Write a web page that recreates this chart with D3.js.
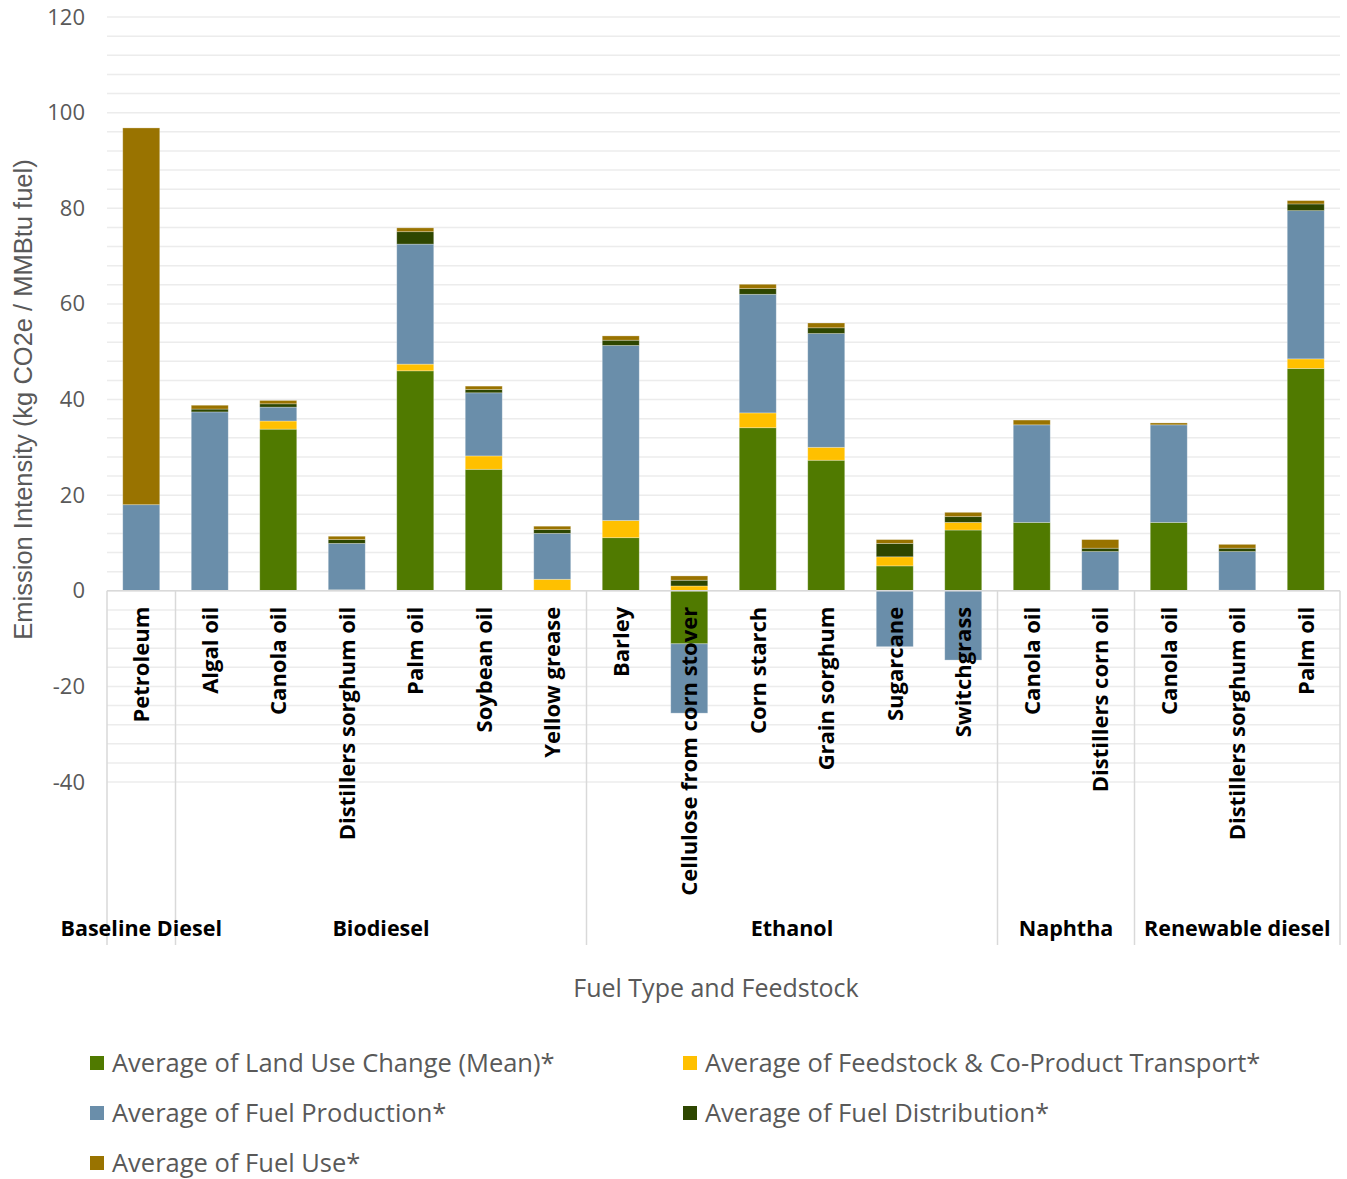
<!DOCTYPE html>
<html>
<head>
<meta charset="utf-8">
<script src="https://cdn.jsdelivr.net/npm/d3@7"></script>
<style>
  html, body { margin: 0; padding: 0; background: #ffffff; }
  svg { display: block; }
</style>
</head>
<body>
<svg id="chart" width="1347" height="1179"></svg>
<script>
// Feedstocks (x categories) and the fuel type each belongs to
const categories = [
  "Petroleum",
  "Algal oil", "Canola oil", "Distillers sorghum oil", "Palm oil", "Soybean oil", "Yellow grease",
  "Barley", "Cellulose from corn stover", "Corn starch", "Grain sorghum", "Sugarcane", "Switchgrass",
  "Canola oil", "Distillers corn oil",
  "Canola oil", "Distillers sorghum oil", "Palm oil"
];
const groups = [
  "Baseline Diesel",
  "Biodiesel", "Biodiesel", "Biodiesel", "Biodiesel", "Biodiesel", "Biodiesel",
  "Ethanol", "Ethanol", "Ethanol", "Ethanol", "Ethanol", "Ethanol",
  "Naphtha", "Naphtha",
  "Renewable diesel", "Renewable diesel", "Renewable diesel"
];

// Emission components, kg CO2e / MMBtu fuel
const landUseChange = [0, 0, 33.8, 0, 46.0, 25.4, 0, 11.1, -11.1, 34.1, 27.3, 5.2, 12.7, 14.3, 0, 14.3, 0, 46.5];
const feedstockTransport = [0, 0, 1.7, 0.2, 1.4, 2.8, 2.4, 3.6, 1.0, 3.1, 2.7, 1.9, 1.6, 0, 0.1, 0, 0.1, 2.0];
const fuelProduction = [18.0, 37.4, 2.9, 9.7, 25.1, 13.2, 9.6, 36.6, -14.5, 24.8, 23.8, -11.7, -14.5, 20.4, 8.1, 20.4, 8.1, 31.0];
const fuelDistribution = [0, 0.6, 0.7, 0.8, 2.6, 0.7, 0.8, 1.1, 1.2, 1.2, 1.2, 2.8, 1.2, 0, 0.7, 0, 0.7, 1.4];
const fuelUse = [78.8, 0.8, 0.7, 0.7, 0.8, 0.7, 0.7, 0.9, 0.9, 0.9, 1.0, 0.8, 0.9, 1.0, 1.8, 0.4, 0.8, 0.7];

const seriesNames = [
  "Average of Land Use Change (Mean)*",
  "Average of Feedstock & Co-Product Transport*",
  "Average of Fuel Production*",
  "Average of Fuel Distribution*",
  "Average of Fuel Use*"
];
const seriesValues = [landUseChange, feedstockTransport, fuelProduction, fuelDistribution, fuelUse];
const seriesColors = ["#507A00", "#FFC000", "#6A8EAA", "#2E4600", "#997300"];

const yTicks = [-40, -20, 0, 20, 40, 60, 80, 100, 120];

// ---- layout ----
const svg = d3.select("#chart");
const plot = { left: 107, right: 1340, top: 17, bottom: 782 };
const groupLineBottom = 945;
const labelFont = "'Open Sans', 'Noto Sans', sans-serif";
const greyText = "#595959";

const x = d3.scaleBand()
  .domain(d3.range(categories.length))
  .range([plot.left, plot.right])
  .paddingInner(0.46)
  .paddingOuter(0.23);
const step = x.step();

const y = d3.scaleLinear().domain([-40, 120]).range([plot.bottom, plot.top]);

// Gridlines every 4 units
svg.append("g")
  .selectAll("line")
  .data(d3.range(-40, 120.001, 4))
  .join("line")
  .attr("x1", plot.left).attr("x2", plot.right)
  .attr("y1", d => y(d)).attr("y2", d => y(d))
  .attr("stroke", "#ececec").attr("stroke-width", 1.5);

// Y axis tick labels
const yAxis = d3.axisLeft(y).tickValues(yTicks).tickFormat(d => String(d)).tickSize(0).tickPadding(0);
const yg = svg.append("g").attr("transform", `translate(${plot.left - 22},0)`).call(yAxis);
yg.select(".domain").remove();
yg.selectAll("text")
  .attr("fill", greyText)
  .style("font-family", labelFont)
  .style("font-size", "22px");

// Stacked bars (negatives stack downward)
const rows = categories.map((c, i) => {
  const r = { i };
  seriesNames.forEach((s, k) => { r[s] = seriesValues[k][i]; });
  return r;
});
const stacked = d3.stack()
  .keys(seriesNames)
  .order(d3.stackOrderNone)
  .offset(d3.stackOffsetDiverging)(rows);

svg.append("g")
  .selectAll("g")
  .data(stacked)
  .join("g")
  .attr("fill", (d, k) => seriesColors[k])
  .selectAll("rect")
  .data(d => d.filter(p => p[1] !== p[0]))
  .join("rect")
  .attr("x", p => x(p.data.i))
  .attr("width", x.bandwidth())
  .attr("y", p => y(Math.max(p[0], p[1])))
  .attr("height", p => Math.abs(y(p[0]) - y(p[1])))
  .attr("stroke", "rgba(255,255,255,0.35)")
  .attr("stroke-width", 0.8);

// Category axis at zero, with group dividers
const axisG = svg.append("g");
axisG.append("line")
  .attr("x1", plot.left).attr("x2", plot.right)
  .attr("y1", y(0)).attr("y2", y(0))
  .attr("stroke", "#d9d9d9").attr("stroke-width", 1.5);

// group spans
const groupSpans = [];
groups.forEach((g, i) => {
  const last = groupSpans[groupSpans.length - 1];
  if (last && last.name === g) last.end = i;
  else groupSpans.push({ name: g, start: i, end: i });
});
const divX = [plot.left].concat(groupSpans.map(s => plot.left + (s.end + 1) * step));
axisG.selectAll("line.div")
  .data(divX)
  .join("line")
  .attr("class", "div")
  .attr("x1", d => d).attr("x2", d => d)
  .attr("y1", y(0)).attr("y2", groupLineBottom)
  .attr("stroke", "#d9d9d9").attr("stroke-width", 1.5);

// Rotated feedstock labels
axisG.selectAll("text.cat")
  .data(categories)
  .join("text")
  .attr("class", "cat")
  .attr("transform", (d, i) => `translate(${x(i) + x.bandwidth() / 2 + 8},${y(0) + 16}) rotate(-90)`)
  .attr("text-anchor", "end")
  .attr("fill", "#000")
  .style("font-family", labelFont)
  .style("font-weight", "700")
  .style("font-size", "22px")
  .text(d => d);

// Fuel type labels
axisG.selectAll("text.grp")
  .data(groupSpans)
  .join("text")
  .attr("class", "grp")
  .attr("x", s => plot.left + (s.start + s.end + 1) / 2 * step)
  .attr("y", 936)
  .attr("text-anchor", "middle")
  .attr("fill", "#000")
  .style("font-family", labelFont)
  .style("font-weight", "700")
  .style("font-size", "21.5px")
  .text(s => s.name);

// Axis titles
svg.append("text")
  .attr("transform", `translate(32,${(plot.top + plot.bottom) / 2}) rotate(-90)`)
  .attr("text-anchor", "middle")
  .attr("fill", greyText)
  .style("font-family", "'Liberation Sans', Arial, sans-serif")
  .style("font-size", "25.5px")
  .text("Emission Intensity (kg CO2e / MMBtu fuel)");

svg.append("text")
  .attr("x", 716).attr("y", 997)
  .attr("text-anchor", "middle")
  .attr("fill", greyText)
  .style("font-family", labelFont)
  .style("font-size", "25px")
  .text("Fuel Type and Feedstock");

// Legend: two columns, filled row by row
const legendCols = [90, 683];
const legendRows = [1063, 1113, 1163];
const lg = svg.append("g")
  .selectAll("g")
  .data(seriesNames)
  .join("g")
  .attr("transform", (d, k) => `translate(${legendCols[k % 2]},${legendRows[Math.floor(k / 2)]})`);
lg.append("rect")
  .attr("x", 0).attr("y", -7).attr("width", 14).attr("height", 14)
  .attr("fill", (d, k) => seriesColors[k]);
lg.append("text")
  .attr("x", 22).attr("y", 9)
  .attr("fill", greyText)
  .style("font-family", labelFont)
  .style("font-size", "25.5px")
  .text(d => d);
</script>
</body>
</html>
